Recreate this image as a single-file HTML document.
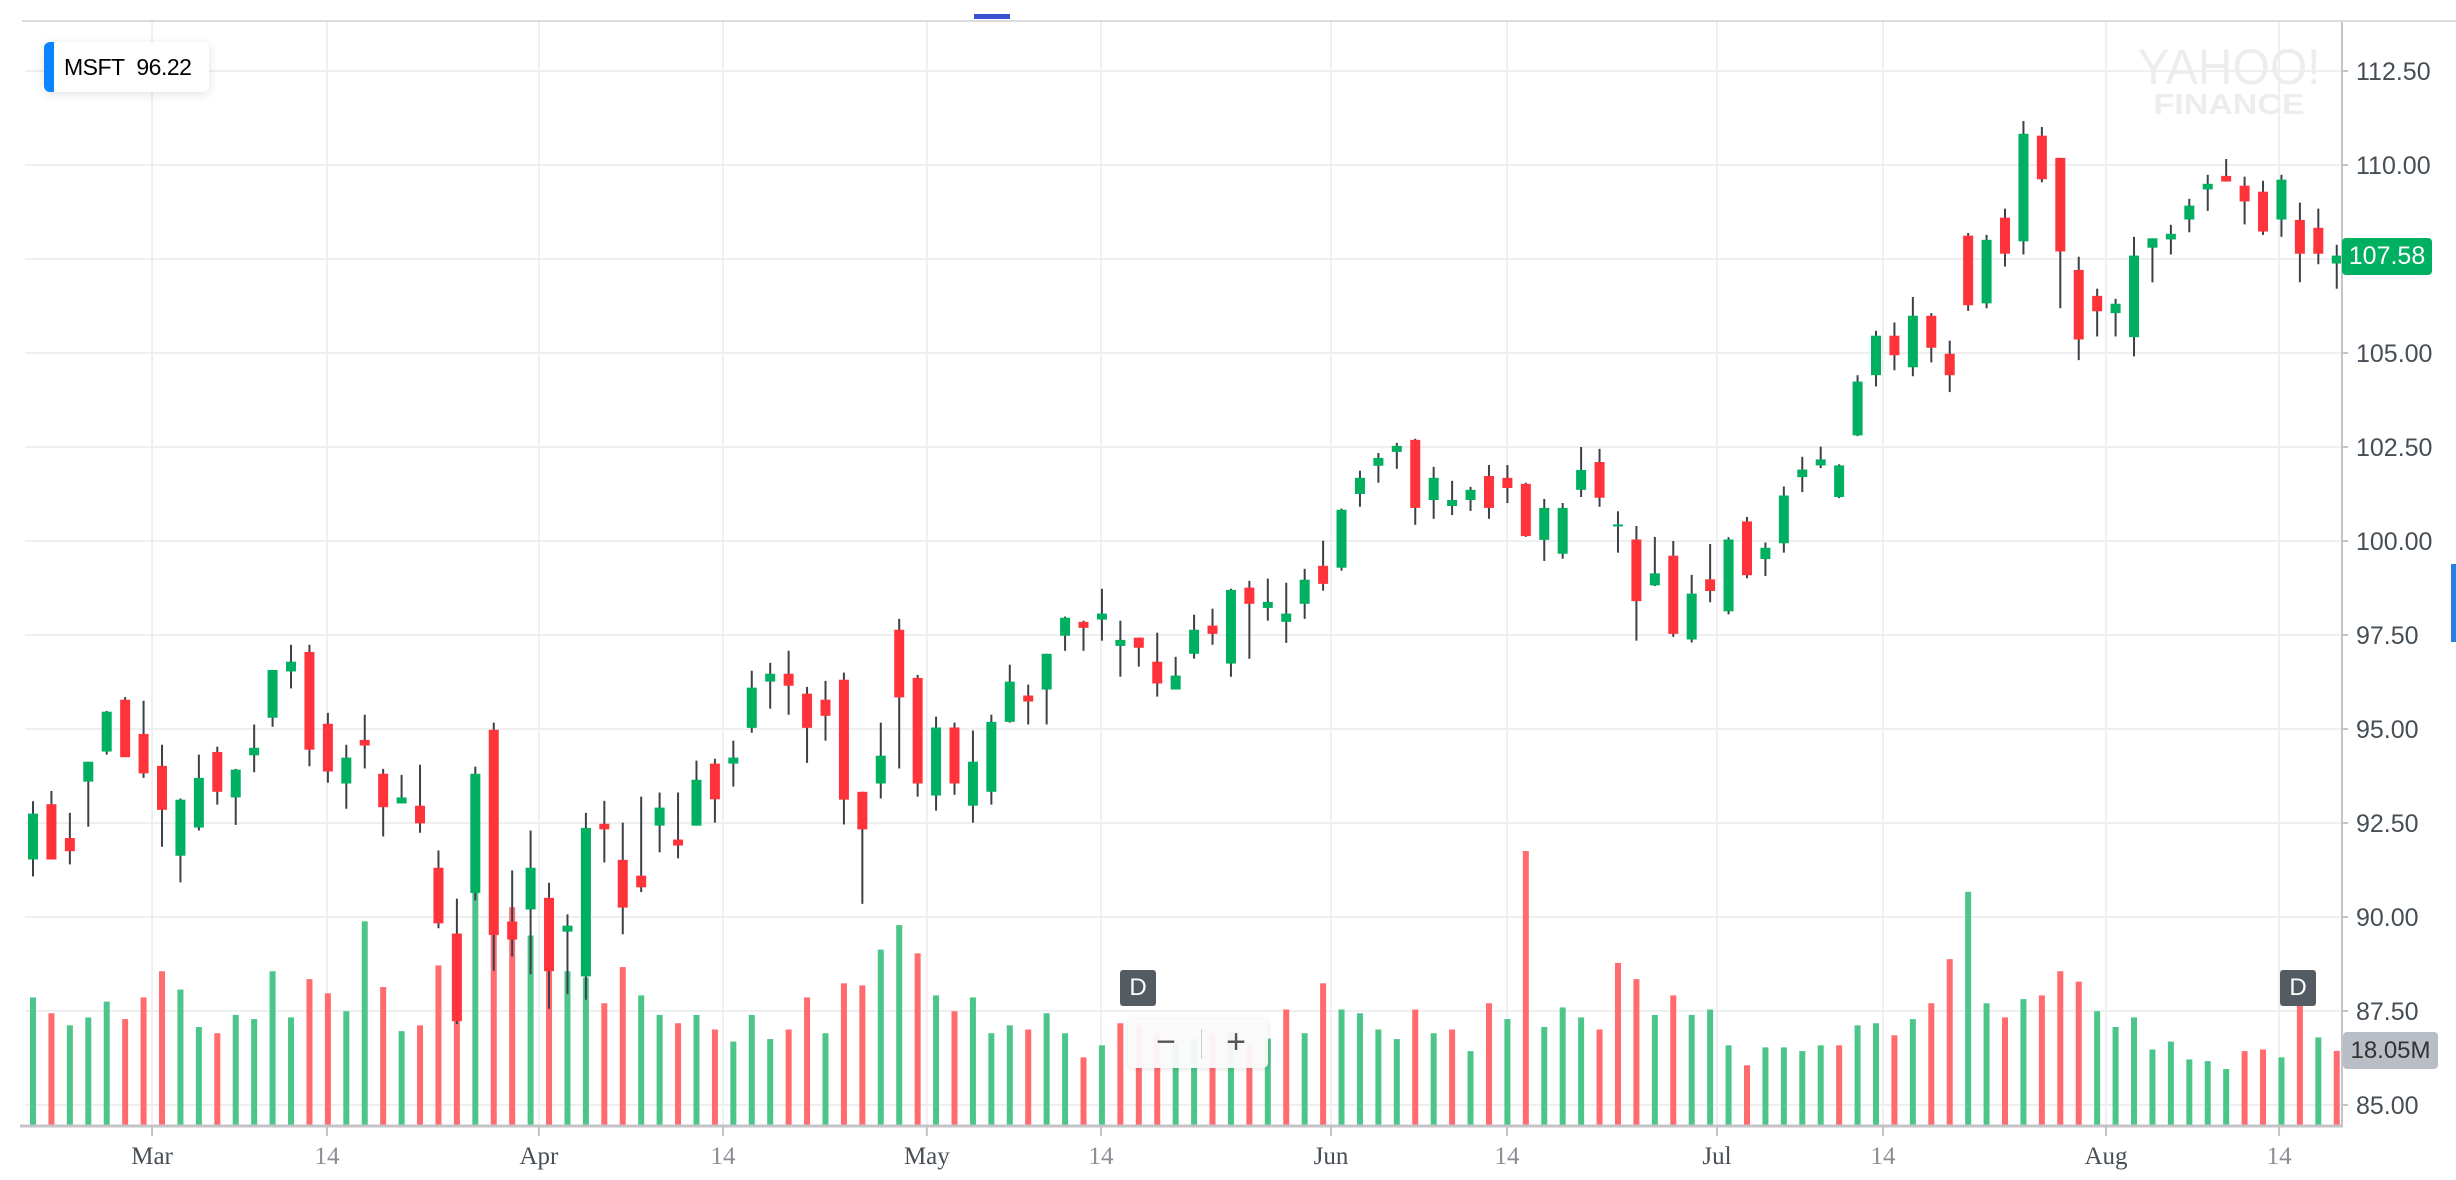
<!DOCTYPE html>
<html><head><meta charset="utf-8"><title>MSFT chart</title>
<style>
html,body{margin:0;padding:0;background:#fff;width:2456px;height:1180px;overflow:hidden;font-family:"Liberation Sans",sans-serif;}
#wrap{position:relative;width:2456px;height:1180px;}
svg{position:absolute;left:0;top:0;}
.lbl{position:absolute;}
</style></head>
<body>
<div id="wrap">
<svg id="chart" width="2456" height="1180">
  <rect x="974" y="14" width="36" height="5" fill="#3a52d0"/>
  <line x1="22" y1="21" x2="2456" y2="21" stroke="#dcdce0" stroke-width="2"/>
  <g id="grid"></g>
  <g id="watermark">
    <text x="2229" y="84" text-anchor="middle" font-family="Liberation Sans" font-size="50" fill="#ededed" textLength="183" lengthAdjust="spacingAndGlyphs">YAHOO!</text>
    <text x="2229" y="114" text-anchor="middle" font-family="Liberation Sans" font-weight="bold" font-size="29" fill="#ededed" textLength="151" lengthAdjust="spacingAndGlyphs">FINANCE</text>
  </g>
  <g id="vols"></g>
  <g id="candles"></g>
  <g id="axes"></g>
  <rect x="2451" y="564" width="5" height="78" fill="#2a7de1"/>
</svg>

<div class="lbl" style="left:44px;top:42px;width:165px;height:50px;background:#fff;border-radius:6px;box-shadow:0 2px 10px rgba(0,0,0,0.12);overflow:hidden;">
  <div style="position:absolute;left:0;top:0;width:10px;height:50px;background:#0a84ff;"></div>
  <div style="position:absolute;left:20px;top:12px;font-size:23px;color:#000;letter-spacing:-0.5px;">MSFT&nbsp;&nbsp;96.22</div>
</div>

<div class="lbl" style="left:2342px;top:238px;width:90px;height:37px;background:#00b061;border-radius:4px;color:#fff;font-size:25px;line-height:37px;text-align:center;">107.58</div>
<div class="lbl" style="left:2343px;top:1032px;width:95px;height:37px;background:#b9bdc5;border-radius:4px;color:#333;font-size:24px;line-height:37px;text-align:center;">18.05M</div>

<div class="lbl" style="left:1120px;top:970px;width:36px;height:36px;background:#555b63;border-radius:3px;color:#fff;font-size:24px;line-height:36px;text-align:center;">D</div>
<div class="lbl" style="left:2280px;top:970px;width:36px;height:36px;background:#555b63;border-radius:3px;color:#fff;font-size:24px;line-height:36px;text-align:center;">D</div>

<div class="lbl" style="left:1128px;top:1019px;width:140px;height:49px;background:rgba(250,250,250,0.95);border-radius:5px;box-shadow:0 1px 6px rgba(0,0,0,0.12);">
  <div style="position:absolute;left:10px;top:0;width:56px;height:49px;font-size:34px;line-height:46px;text-align:center;color:#555;">−</div>
  <div style="position:absolute;left:73px;top:10px;width:1px;height:30px;background:#ccc;"></div>
  <div style="position:absolute;left:80px;top:0;width:56px;height:49px;font-size:34px;line-height:46px;text-align:center;color:#555;">+</div>
</div>
</div>

<script>
// ---- data ----
const opens  = [91.53,93.0,92.1,93.6,94.4,95.78,94.87,94.02,91.63,92.38,94.39,93.18,94.3,95.3,96.53,97.05,95.14,93.55,94.71,93.81,93.02,92.96,91.31,89.56,90.64,94.98,89.88,90.2,90.51,89.61,88.42,92.48,91.52,91.1,92.43,92.06,92.43,94.08,94.08,95.03,96.26,96.47,95.94,
95.78,96.31,93.33,93.55,97.64,96.36,93.23,95.04,92.96,93.33,95.19,95.89,96.05,97.48,97.85,97.91,97.21,97.43,96.79,96.05,97.0,97.75,96.74,98.76,98.22,97.85,98.33,99.34,99.29,101.25,102.0,102.37,102.69,101.09,100.93,101.09,101.73,101.68,101.52,100.03,99.66,101.36,102.1,100.44,
100.04,98.82,99.61,97.38,98.98,98.13,100.52,99.52,99.94,101.7,102.01,101.17,102.81,104.41,105.46,104.62,105.99,104.98,108.12,106.32,108.6,107.97,110.78,110.19,107.21,106.52,106.06,105.42,107.8,108.02,108.55,109.35,109.71,109.45,109.29,108.55,108.54,108.33,107.38];
const closes = [92.75,91.53,91.75,94.13,95.46,94.25,93.82,92.85,93.12,93.7,93.33,93.92,94.5,96.57,96.79,94.45,93.87,94.24,94.56,92.92,93.18,92.49,89.83,87.23,93.81,89.52,89.4,91.31,88.56,89.77,92.37,92.33,90.25,90.79,92.91,91.9,93.65,93.13,94.24,96.1,96.47,96.15,95.03,
95.35,93.12,92.33,94.29,95.84,93.55,95.04,93.55,94.13,95.19,96.26,95.73,97.0,97.96,97.69,98.07,97.37,97.16,96.21,96.42,97.64,97.53,98.7,98.33,98.38,98.07,98.97,98.86,100.83,101.68,102.21,102.53,100.88,101.68,101.09,101.36,100.88,101.41,100.13,100.88,100.88,101.89,101.15,100.44,
98.4,99.14,97.53,98.6,98.67,100.04,99.09,99.82,101.21,101.9,102.17,102.01,104.24,105.46,104.94,105.99,105.14,104.41,106.27,108.01,107.64,110.83,109.62,107.7,105.36,106.11,106.31,107.59,108.05,108.17,108.92,109.5,109.56,109.03,108.23,109.61,107.64,107.64,107.59];
const highs  = [93.08,93.35,92.77,94.13,95.48,95.85,95.75,94.58,93.15,94.32,94.53,93.94,95.12,96.57,97.24,97.24,95.43,94.58,95.38,93.94,93.78,94.05,91.77,90.49,94.0,95.17,91.24,92.3,90.91,90.07,92.77,93.09,92.51,93.2,93.31,93.31,94.16,94.21,94.69,96.55,96.76,97.08,96.12,
96.28,96.5,93.33,95.17,97.93,96.44,95.33,95.17,94.96,95.38,96.71,96.18,97.0,97.99,97.88,98.73,97.88,97.43,97.56,96.92,98.04,98.2,98.73,98.94,99.0,98.89,99.26,100.01,100.86,101.87,102.34,102.61,102.72,101.97,101.6,101.44,102.02,102.02,101.55,101.12,101.01,102.5,102.45,100.79,
100.4,100.11,100.0,99.1,99.92,100.1,100.64,99.96,101.45,102.24,102.51,102.04,104.41,105.59,105.81,106.49,106.06,105.33,108.19,108.14,108.84,111.17,111.01,110.19,107.56,106.71,106.44,108.09,108.05,108.41,109.1,109.74,110.16,109.69,109.58,109.74,109.0,108.84,107.88];
const lows   = [91.08,91.53,91.4,92.4,94.32,94.25,93.7,91.87,90.92,92.3,92.99,92.45,93.85,95.06,96.08,94.01,93.57,92.88,93.95,92.14,93.02,92.24,89.7,87.15,90.44,88.57,88.95,88.48,87.56,87.95,87.8,91.45,89.54,90.66,91.72,91.56,92.43,92.51,93.47,94.9,95.54,95.38,94.1,
94.69,92.46,90.35,93.15,93.95,93.2,92.83,93.25,92.51,92.99,95.17,95.12,95.12,97.08,97.08,97.35,96.39,96.66,95.86,96.05,96.87,97.24,96.39,96.87,97.88,97.29,97.93,98.68,99.21,100.91,101.55,101.92,100.43,100.59,100.69,100.8,100.59,101.01,100.11,99.47,99.53,101.17,100.91,99.69,
97.35,98.8,97.45,97.3,98.37,98.05,99.01,99.07,99.69,101.3,101.94,101.14,102.79,104.11,104.54,104.38,104.75,103.96,106.12,106.19,107.3,107.62,109.54,106.19,104.81,105.44,105.44,104.91,106.88,107.62,108.21,108.78,109.56,108.42,108.14,108.09,106.88,107.36,106.71];
const volumes = [30.9,27.1,24.2,26.1,29.9,25.7,30.9,37.2,32.8,23.8,22.3,26.7,25.7,37.2,26.1,35.3,31.9,27.6,49.2,33.4,22.8,24.2,38.6,44.8,56.5,57.0,52.6,45.8,49.0,37.2,35.7,29.5,38.2,31.4,26.7,24.7,26.7,23.2,20.3,26.7,20.9,23.2,30.9,
22.3,34.3,33.8,42.4,48.3,41.5,31.4,27.6,30.9,22.3,24.2,23.2,27.1,22.3,16.5,19.4,24.7,24.0,22.0,20.0,21.0,22.0,23.0,20.0,21.0,28.0,22.3,34.3,28.0,27.1,23.2,20.9,28.0,22.3,23.2,18.0,29.5,25.7,66.1,23.8,28.5,26.1,23.2,39.2,
35.3,26.7,31.4,26.7,28.0,19.4,14.6,18.9,18.9,18.0,19.4,19.4,24.2,24.7,21.8,25.7,29.5,40.1,56.3,29.5,26.1,30.5,31.4,37.2,34.7,27.6,23.8,26.1,18.4,20.3,16.0,15.6,13.7,18.0,18.4,16.5,29.8,21.3,18.05];
const priceTicks = [85,87.5,90,92.5,95,97.5,100,102.5,105,107.5,110,112.5];
const dateTickLabels = ["Mar","14","Apr","14","May","14","Jun","14","Jul","14","Aug","14"];
const dateTickIndex = [6.46,15.95,27.45,37.44,48.5,57.95,70.43,79.98,91.37,100.38,112.48,121.87];

// ---- axis functions ----
const X0 = 33, STEP = 18.43;
function xScale(i){ return X0 + i*STEP; }
function yScale(p){ return 541 - (p-100)*37.6; }
function vScale(v){ return 1126 - v*4.16; }

const NS = "http://www.w3.org/2000/svg";
function mk(tag, attrs, parent){
  const e = document.createElementNS(NS, tag);
  for (const k in attrs) e.setAttribute(k, attrs[k]);
  parent.appendChild(e);
  return e;
}
const grid = document.getElementById('grid');
const axes = document.getElementById('axes');
const cg = document.getElementById('candles');
const vg = document.getElementById('vols');

priceTicks.forEach(function(p){
  const y = yScale(p);
  const l = mk('line',{x1:25,y1:y,x2:2341,y2:y,stroke:'#efeff1','stroke-width':2},grid);
  
  
  const t = mk('line',{x1:2341,y1:y,x2:2348,y2:y,stroke:'#c4c4c8','stroke-width':2},axes);
  
  
  const tx = mk('text',{x:2356,y:y+9,'font-size':25,fill:'#464e56','font-family':'Liberation Sans'},axes);
  tx.textContent = p.toFixed(2);
  
  
});
dateTickIndex.forEach(function(ix, k){
  const x = xScale(ix);
  const l = mk('line',{x1:x,y1:22,x2:x,y2:1126,stroke:'#efeff1','stroke-width':2},grid);
  
  
  const t = mk('line',{x1:x,y1:1126,x2:x,y2:1136,stroke:'#c4c4c8','stroke-width':2},axes);
  
  
  const lab = dateTickLabels[k];
  const tx = mk('text',{x:x,y:1164,'text-anchor':'middle','font-size':25,fill:(lab==='14'?'#8a8e94':'#464e56'),'font-family':'Liberation Serif'},axes);
  tx.textContent = lab;
  
  
});
const ax1 = mk('line',{x1:20,y1:1126,x2:2343,y2:1126,stroke:'#c4c4c8','stroke-width':3},axes);


const ax2 = mk('line',{x1:2342,y1:22,x2:2342,y2:1127,stroke:'#c4c4c8','stroke-width':2},axes);



for (let i=0;i<opens.length;i++){
  const up = closes[i] >= opens[i];
  const vup = i===0 ? true : closes[i] >= closes[i-1];
  const x = xScale(i);
  const vb = mk('rect',{x:x-3,y:vScale(volumes[i]),width:6,height:1126-vScale(volumes[i]),fill:vup?'#4cc58a':'#ff6b6e'},vg);
  
  
  const w = mk('line',{x1:x,y1:yScale(highs[i]),x2:x,y2:yScale(lows[i]),stroke:'#3c4048','stroke-width':2},cg);
  
  
  const top = yScale(Math.max(opens[i],closes[i]));
  const bot = yScale(Math.min(opens[i],closes[i]));
  const b = mk('rect',{x:x-5,y:top,width:10,height:Math.max(2,bot-top),fill:up?'#00b061':'#ff333a'},cg);
  
  
}
</script>
</body></html>
